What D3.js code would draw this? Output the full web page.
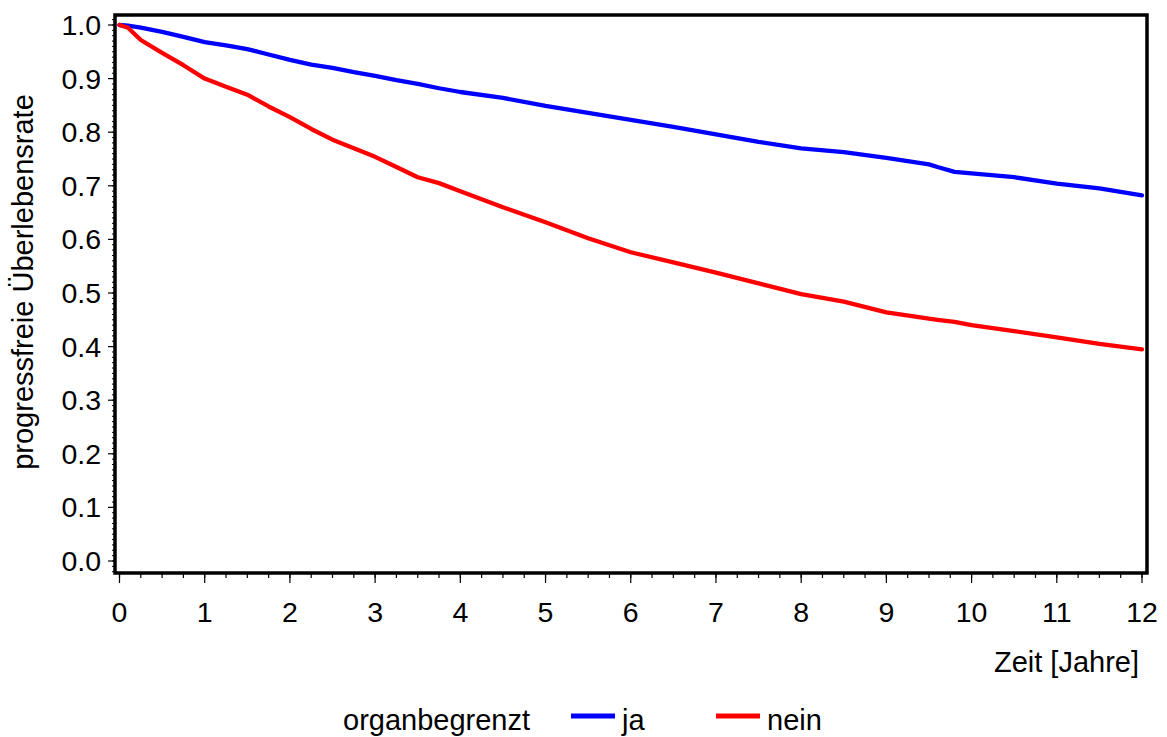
<!DOCTYPE html>
<html>
<head>
<meta charset="utf-8">
<title>progressfreie Überlebensrate</title>
<script src="https://cdn.jsdelivr.net/npm/d3@7"></script>
<style>
    body { margin: 0; background: #fff; }
    svg { display: block; font-family: Arial, "Liberation Sans", sans-serif; }
</style>
</head>
<body>
<svg id="chart"></svg>
<script>
// Zeitpunkte (Jahre) und Überlebensraten
const zeit = [0, 0.1, 0.25, 0.5, 0.75, 1, 1.25, 1.5, 1.75, 2, 2.25, 2.5, 2.75, 3, 3.25, 3.5, 3.75, 4,
              4.5, 5, 5.5, 6, 6.5, 7, 7.5, 8, 8.5, 9, 9.5, 9.6, 9.8, 10, 10.5, 11, 11.5, 12];
const ja   = [1.0, 0.999, 0.995, 0.987, 0.978, 0.968, 0.962, 0.955, 0.945, 0.935, 0.926, 0.920, 0.912, 0.905, 0.897, 0.890, 0.882, 0.875,
              0.864, 0.849, 0.836, 0.823, 0.810, 0.796, 0.782, 0.770, 0.763, 0.752, 0.740, 0.735, 0.726, 0.723, 0.716, 0.704, 0.695, 0.682];
const nein = [1.0, 0.995, 0.972, 0.948, 0.925, 0.900, 0.885, 0.870, 0.848, 0.828, 0.806, 0.786, 0.770, 0.754, 0.735, 0.716, 0.705, 0.690,
              0.660, 0.632, 0.602, 0.576, 0.557, 0.538, 0.518, 0.498, 0.484, 0.464, 0.452, 0.450, 0.446, 0.440, 0.429, 0.417, 0.405, 0.395];

const xTicks = d3.range(0, 13, 1);
const yTicks = d3.range(0, 11).map(d => d / 10);

const serien = [
    { name: "ja", werte: ja, farbe: "#0000ff" },
    { name: "nein", werte: nein, farbe: "#ff0000" }
];

const width = 1167, height = 737;
const svg = d3.select("#chart").attr("width", width).attr("height", height);

const x = d3.scaleLinear().domain([0, 12]).range([119.5, 1142]);
const y = d3.scaleLinear().domain([0, 1]).range([561, 25]);

// Rahmen
const frame = { l: 115, t: 15, r: 1147, b: 573 };

// kleine Striche y (alle 0.01)
svg.append("g").selectAll("line")
    .data(d3.range(-2, 102).map(d => d / 100))
    .join("line")
    .attr("x1", frame.l - 3).attr("x2", frame.l)
    .attr("y1", d => y(d)).attr("y2", d => y(d))
    .attr("stroke", "#000").attr("stroke-width", 1);

// große Striche y
svg.append("g").selectAll("line")
    .data(yTicks)
    .join("line")
    .attr("x1", frame.l - 7).attr("x2", frame.l)
    .attr("y1", d => y(d)).attr("y2", d => y(d))
    .attr("stroke", "#000").attr("stroke-width", 1.2);

svg.append("g").selectAll("text")
    .data(yTicks)
    .join("text")
    .attr("x", 101).attr("y", d => y(d))
    .attr("dy", "0.35em")
    .attr("text-anchor", "end")
    .attr("font-size", 28.5)
    .text(d => d.toFixed(1));

// kleine Striche x (alle 0.25)
svg.append("g").selectAll("line")
    .data(d3.range(0, 49).map(d => d / 4))
    .join("line")
    .attr("x1", d => x(d)).attr("x2", d => x(d))
    .attr("y1", frame.b).attr("y2", frame.b + 5)
    .attr("stroke", "#000").attr("stroke-width", 1.2);

svg.append("g").selectAll("line")
    .data(xTicks)
    .join("line")
    .attr("x1", d => x(d)).attr("x2", d => x(d))
    .attr("y1", frame.b).attr("y2", frame.b + 10)
    .attr("stroke", "#000").attr("stroke-width", 1.2);

svg.append("g").selectAll("text")
    .data(xTicks)
    .join("text")
    .attr("x", d => x(d)).attr("y", 622)
    .attr("text-anchor", "middle")
    .attr("font-size", 28.5)
    .text(d => d);

// Kurven
const line = d3.line()
    .x((d, i) => x(zeit[i]))
    .y(d => y(d));

svg.append("g").selectAll("path")
    .data(serien)
    .join("path")
    .attr("d", d => line(d.werte))
    .attr("fill", "none")
    .attr("stroke", d => d.farbe)
    .attr("stroke-width", 4.3)
    .attr("stroke-linejoin", "round")
    .attr("stroke-linecap", "round");

svg.append("rect")
    .attr("x", frame.l).attr("y", frame.t)
    .attr("width", frame.r - frame.l).attr("height", frame.b - frame.t)
    .attr("fill", "none").attr("stroke", "#000").attr("stroke-width", 3.5);

// Achsentitel
svg.append("text")
    .attr("transform", "translate(33,282) rotate(-90)")
    .attr("text-anchor", "middle")
    .attr("font-size", 29)
    .text("progressfreie Überlebensrate");

svg.append("text")
    .attr("x", 1139).attr("y", 672)
    .attr("text-anchor", "end")
    .attr("font-size", 29)
    .text("Zeit [Jahre]");

// Legende
const leg = svg.append("g");
leg.append("text")
    .attr("x", 343).attr("y", 730)
    .attr("font-size", 29)
    .text("organbegrenzt");

const legX = [571, 716];
serien.forEach((s, i) => {
    leg.append("line")
        .attr("x1", legX[i]).attr("x2", legX[i] + 44)
        .attr("y1", 716).attr("y2", 716)
        .attr("stroke", s.farbe).attr("stroke-width", 5);
    leg.append("text")
        .attr("x", legX[i] + 51).attr("y", 730)
        .attr("font-size", 29)
        .text(s.name);
});
</script>
</body>
</html>
